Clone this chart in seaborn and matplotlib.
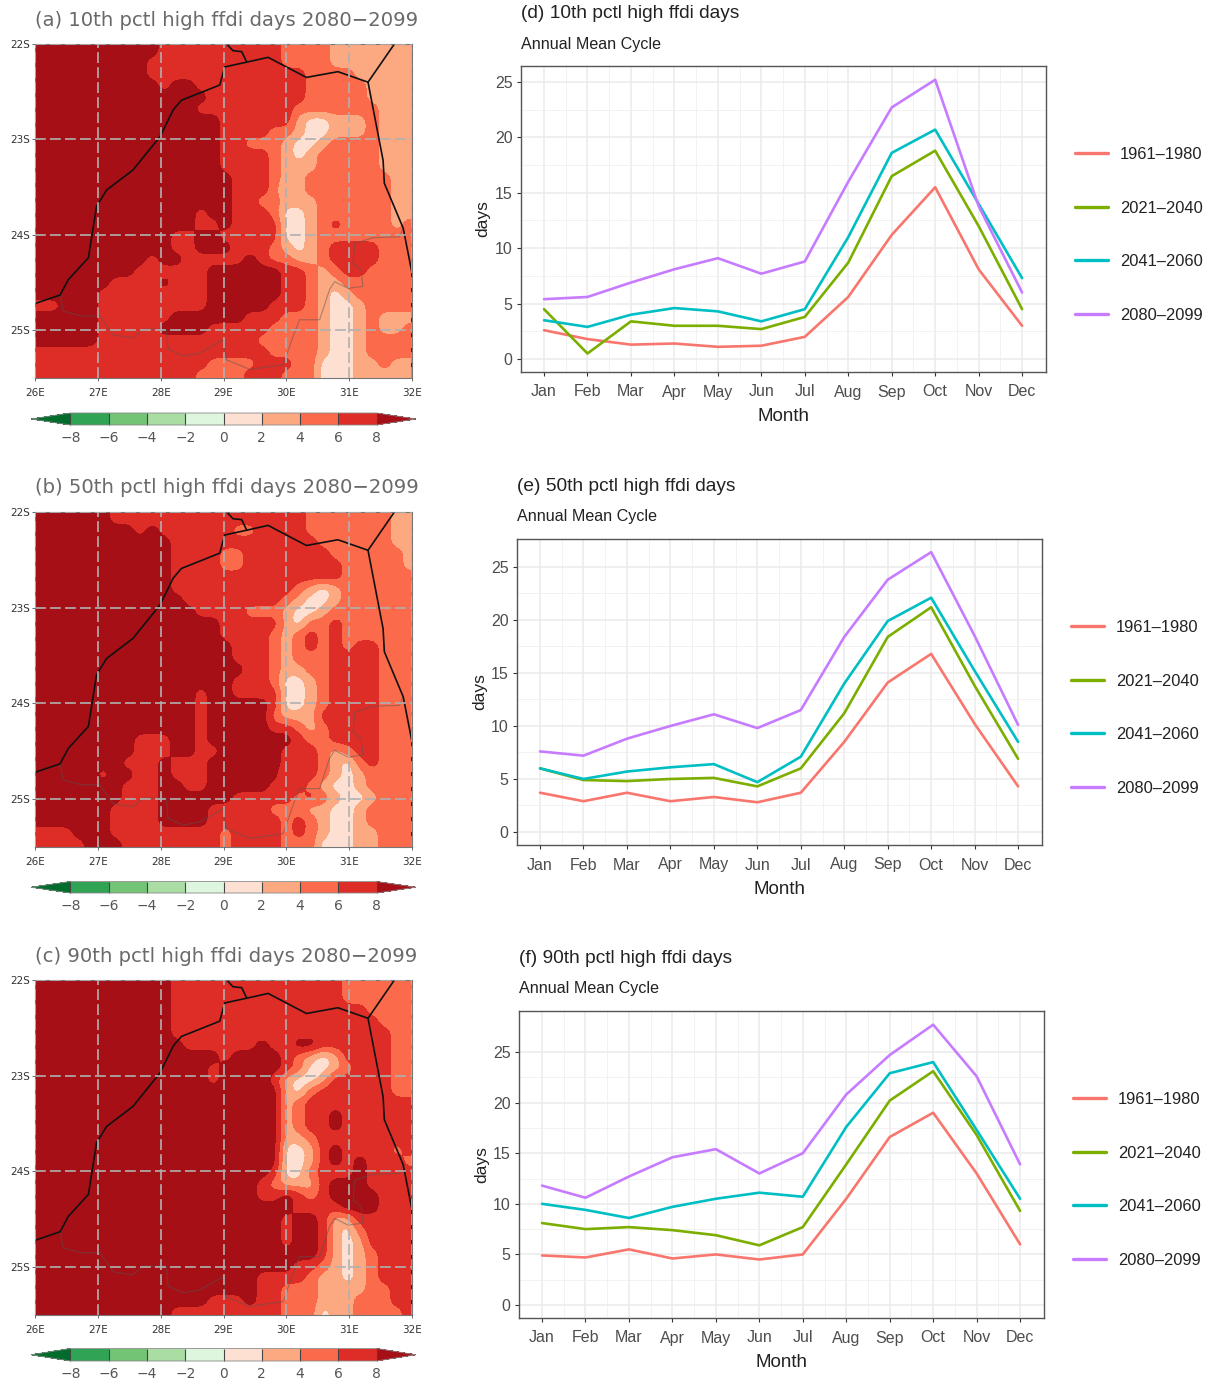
import numpy as np
import pandas as pd
import matplotlib
matplotlib.use("Agg")
import matplotlib.pyplot as plt
from matplotlib.lines import Line2D
import seaborn as sns

W, H = 1213, 1382

months = ["Jan", "Feb", "Mar", "Apr", "May", "Jun", "Jul", "Aug", "Sep", "Oct", "Nov", "Dec"]
periods = ["1961\u20131980", "2021\u20132040", "2041\u20132060", "2080\u20132099"]
line_colors = ["#F8766D", "#7CAE00", "#00BFC4", "#C77CFF"]

# panel d
d_1961 = [2.6, 1.8, 1.3, 1.4, 1.1, 1.2, 2.0, 5.6, 11.2, 15.5, 8.1, 3.0]
d_2021 = [4.5, 0.5, 3.4, 3.0, 3.0, 2.7, 3.8, 8.7, 16.5, 18.8, 12.0, 4.5]
d_2041 = [3.5, 2.9, 4.0, 4.6, 4.3, 3.4, 4.5, 11.0, 18.6, 20.7, 14.0, 7.3]
d_2080 = [5.4, 5.6, 6.9, 8.1, 9.1, 7.7, 8.8, 16.0, 22.7, 25.2, 13.8, 6.0]
# panel e
e_1961 = [3.7, 2.9, 3.7, 2.9, 3.3, 2.8, 3.7, 8.5, 14.1, 16.8, 10.2, 4.3]
e_2021 = [6.0, 4.9, 4.8, 5.0, 5.1, 4.3, 6.0, 11.2, 18.4, 21.2, 13.8, 6.9]
e_2041 = [6.0, 5.0, 5.7, 6.1, 6.4, 4.7, 7.1, 14.0, 19.9, 22.1, 15.2, 8.5]
e_2080 = [7.6, 7.2, 8.8, 10.0, 11.1, 9.8, 11.5, 18.4, 23.8, 26.4, 18.5, 10.1]
# panel f
f_1961 = [4.9, 4.7, 5.5, 4.6, 5.0, 4.5, 5.0, 10.5, 16.6, 19.0, 13.0, 6.0]
f_2021 = [8.1, 7.5, 7.7, 7.4, 6.9, 5.9, 7.7, 13.9, 20.2, 23.1, 16.8, 9.3]
f_2041 = [10.0, 9.4, 8.6, 9.7, 10.5, 11.1, 10.7, 17.6, 22.9, 24.0, 17.3, 10.5]
f_2080 = [11.8, 10.6, 12.7, 14.6, 15.4, 13.0, 15.0, 20.8, 24.7, 27.7, 22.6, 13.9]

# map rows, north to south, as "value:count" runs along the 31 longitudes
map_a = [
    "9:10 7:10 5:4 3:7", "9:9 7:11 5:4 3:7", "9:9 7:13 5:4 3:5", "9:10 7:1 9:2 7:9 5:5 3:4",
    "9:14 7:8 5:5 3:4", "9:13 7:8 5:7 3:3", "9:15 7:6 3:1 1:2 3:3 5:1 3:3", "9:15 7:4 5:2 3:1 1:2 3:3 5:1 3:3",
    "9:15 7:2 5:3 3:1 1:2 3:1 5:4 3:3", "9:15 7:4 5:1 3:1 1:1 3:1 5:5 3:3", "9:15 7:4 5:1 3:3 5:5 3:3",
    "9:16 7:3 5:1 3:2 5:7 3:2", "9:16 7:3 5:1 1:1 3:1 5:7 3:2", "9:16 7:2 5:2 3:3 5:6 3:2",
    "9:13 7:1 9:2 7:3 5:1 1:2 3:1 5:6 3:2", "9:13 7:2 9:1 7:4 1:2 3:1 5:1 7:1 5:4 3:1 5:1",
    "9:11 7:2 9:2 7:5 1:2 3:1 5:8", "9:11 7:2 9:3 7:3 5:1 3:1 1:1 3:1 5:1 7:4 5:3",
    "9:9 7:1 9:2 7:5 9:1 7:1 5:2 3:2 5:1 7:4 5:3", "9:8 7:6 9:6 7:2 5:1 3:1 5:1 7:2 5:4",
    "9:6 7:4 9:1 7:3 9:6 7:2 5:1 3:2 5:6", "9:5 7:9 9:6 7:2 5:1 3:1 1:1 3:1 5:5",
    "7:2 9:3 7:9 9:5 7:3 5:1 3:1 1:2 3:1 5:4", "9:5 7:6 9:6 7:3 5:3 3:1 1:2 3:1 5:1 3:3",
    "9:5 7:5 9:4 7:5 5:4 3:1 1:2 3:1 5:1 3:2 5:1", "9:5 7:13 5:5 3:1 1:2 3:1 5:4",
    "7:19 5:4 3:1 1:2 3:1 5:4", "7:14 5:4 7:3 5:2 1:3 3:2 5:1 3:2", "7:13 5:4 7:3 5:3 1:3 3:5",
]
map_b = [
    "9:6 7:16 5:7 3:2", "9:8 7:1 9:1 7:6 5:2 7:4 5:7 3:2", "9:11 7:12 5:6 3:2",
    "9:11 7:4 5:2 7:7 5:5 5:1 3:1", "9:11 7:4 5:2 7:8 5:5 3:1", "9:11 7:14 5:6",
    "9:11 7:10 5:1 3:1 1:1 3:1 5:6", "9:12 7:8 5:1 3:1 1:2 3:1 5:6", "9:13 7:4 5:3 3:1 1:2 3:1 5:7",
    "9:15 7:5 3:1 1:1 5:2 7:1 5:6", "9:15 7:4 5:1 3:1 5:1 7:1 5:1 7:1 5:6",
    "9:16 7:3 5:1 3:1 5:1 7:1 5:1 7:1 5:1 7:2 5:3", "9:16 7:3 5:1 3:1 5:3 7:4 5:3",
    "9:17 7:2 5:1 3:2 5:2 7:4 5:3", "9:16 7:3 5:1 1:2 3:1 5:1 7:4 5:3",
    "9:13 7:1 9:2 7:4 1:2 3:1 5:1 7:4 5:3", "9:13 7:1 9:5 7:1 1:2 3:1 5:1 7:4 5:3",
    "9:13 7:1 9:5 5:1 3:3 7:5 5:3", "9:13 7:1 9:5 7:2 5:1 3:1 5:1 7:4 5:3",
    "9:8 7:3 9:2 7:1 9:7 7:1 5:2 7:4 5:3", "9:8 7:3 9:2 7:2 9:5 7:2 7:1 5:1 3:1 5:1 7:2 5:3",
    "9:7 7:3 9:1 7:3 9:6 7:3 5:1 3:1 1:1 5:1 7:1 5:3", "9:5 7:1 9:2 7:2 9:1 7:3 9:6 5:1 7:2 5:1 3:1 1:1 3:1 5:4",
    "9:7 7:3 9:2 7:2 9:5 7:3 5:1 3:1 1:2 3:1 5:4", "9:7 7:3 9:6 7:5 5:1 7:1 5:1 3:1 1:2 3:1 5:4",
    "9:6 7:4 9:4 7:5 5:3 3:2 1:2 3:1 5:4", "9:6 7:4 9:4 7:6 5:1 7:1 5:1 3:1 1:2 3:1 5:4",
    "7:3 9:3 7:9 5:1 7:4 5:1 7:1 5:1 3:1 1:2 3:2 5:3", "7:4 9:3 7:8 5:1 7:4 5:3 1:3 3:2 5:3",
]
map_c = [
    "9:11 7:14 5:6", "9:11 7:14 5:6", "9:11 7:16 5:4", "9:11 7:17 5:3", "9:11 7:18 5:2",
    "9:12 7:6 9:1 7:2 9:2 7:6 5:2", "9:15 7:1 9:4 7:1 5:1 3:1 1:1 3:1 7:4 5:2", "9:14 7:1 9:5 7:1 5:1 1:2 3:1 5:1 7:3 5:2",
    "9:14 7:1 9:4 7:1 3:1 1:2 3:1 7:5 5:2", "9:20 3:1 1:1 5:1 7:6 5:2", "9:20 3:1 5:1 7:9",
    "9:20 3:1 5:1 7:2 9:1 7:6", "9:20 3:1 5:1 7:2 9:1 7:6", "9:20 3:1 3:1 5:1 7:8",
    "9:20 1:2 3:1 7:1 9:1 7:4 5:1 7:1", "9:20 1:2 3:1 7:1 9:1 7:1 9:1 7:3 5:1",
    "9:19 7:1 1:2 5:1 7:3 9:1 7:4", "9:18 7:1 5:1 3:2 3:1 7:1 9:3 7:4", "9:18 7:1 7:1 9:1 7:1 5:1 7:1 9:4 7:3",
    "9:21 7:4 9:3 7:3", "9:20 7:1 9:2 7:1 3:2 7:5", "9:20 7:1 9:2 7:1 3:1 1:1 5:1 7:4",
    "9:20 7:1 9:2 7:1 3:1 1:1 3:1 7:4", "9:23 7:1 3:1 1:1 3:1 5:1 7:3", "9:21 7:2 5:1 3:1 1:1 3:1 5:1 7:3",
    "9:18 7:4 5:1 3:2 1:1 3:1 5:1 7:3", "9:18 7:2 5:3 3:3 3:1 5:2 7:2", "9:14 7:3 9:1 7:2 5:3 3:3 5:3 7:2",
    "9:11 7:9 5:3 1:1 3:2 5:4 7:1",
]
map_titles = ["(a) 10th pctl high ffdi days 2080\u22122099",
              "(b) 50th pctl high ffdi days 2080\u22122099",
              "(c) 90th pctl high ffdi days 2080\u22122099"]
line_titles = ["(d) 10th pctl high ffdi days", "(e) 50th pctl high ffdi days", "(f) 90th pctl high ffdi days"]

lon = np.arange(26, 32.01, 0.2)
lat = np.arange(22, 25.51, 0.125)

border_lon = [26.00, 26.40, 26.53, 26.85, 26.98, 27.14, 27.56, 27.99, 28.20, 28.33, 28.94, 29.02, 29.37, 29.71, 30.00, 30.32, 30.82, 31.30, 31.54, 31.56, 31.86, 32.00, 32.00]
border_lat = [24.72, 24.63, 24.47, 24.24, 23.70, 23.53, 23.32, 22.97, 22.69, 22.59, 22.43, 22.24, 22.19, 22.14, 22.24, 22.35, 22.29, 22.40, 23.22, 23.46, 23.93, 24.40, 25.50]
north_lon = [29.05, 29.15, 29.29, 29.37]
north_lat = [22.00, 22.07, 22.08, 22.19]
east_lon = [31.30, 31.72]
east_lat = [22.40, 22.00]
inner_lon = [26.40, 26.45, 26.74, 27.03, 27.25, 27.56, 27.72, 28.09, 28.12, 28.36, 28.62, 28.99, 29.05, 29.42, 29.95, 30.11, 30.21, 30.53, 30.69, 30.77, 30.98, 31.22, 31.19, 31.06, 31.09, 31.38, 31.80, 31.86]
inner_lat = [24.63, 24.80, 24.85, 24.85, 25.05, 25.08, 24.99, 24.99, 25.20, 25.27, 25.24, 25.10, 25.31, 25.41, 25.36, 25.06, 24.89, 24.89, 24.57, 24.49, 24.56, 24.54, 24.37, 24.30, 24.09, 24.03, 24.02, 23.93]

levels = [-8, -6, -4, -2, 0, 2, 4, 6, 8]
under_color = "#006D2C"
over_color = "#A50F15"
band_colors = ["#31A354", "#74C476", "#A9DDA3", "#DDF6DD", "#FEE0D2", "#FCA982", "#FB6A4A", "#DE2D26"]

sns.set_theme(style="whitegrid")
plt.rcParams["font.family"] = ["Liberation Sans", "DejaVu Sans"]


def axes_px(fig, left, top, right, bottom):
    return fig.add_axes([left / W, 1 - bottom / H, (right - left) / W, (bottom - top) / H])


def decode(rows):
    out = []
    for row in rows:
        vals = []
        for run in row.split():
            v, n = run.split(":")
            vals += [int(v)] * int(n)
        out.append((vals + vals[-1:] * 31)[:31])
    return np.array(out, dtype=float)


def soften(z, k=6):
    # round the blocky cells so the filled contours come out smooth
    z = np.repeat(np.repeat(z, k, axis=0), k, axis=1)
    box = np.ones(k) / k
    for axis in (0, 1):
        for _ in range(2):
            pad = [(k, k) if i == axis else (0, 0) for i in range(2)]
            z = np.apply_along_axis(lambda m: np.convolve(m, box, mode="same"), axis, np.pad(z, pad, mode="edge"))
            z = z[k:-k, :] if axis == 0 else z[:, k:-k]
    return z


def draw_map(fig, rows, title, top, bottom, cb_top, cb_bottom):
    ax = axes_px(fig, 35, top, 412, bottom)
    z = soften(decode(rows))
    x = np.linspace(lon[0], lon[-1], z.shape[1])
    y = np.linspace(lat[0], lat[-1], z.shape[0])
    cf = ax.contourf(x, y, z, levels=levels, colors=band_colors, extend="both")
    cf.cmap.set_under(under_color)
    cf.cmap.set_over(over_color)
    cf.changed()
    ax.plot(inner_lon, inner_lat, color="#555555", lw=0.8, alpha=0.5)
    for xs, ys in [(border_lon, border_lat), (north_lon, north_lat), (east_lon, east_lat)]:
        ax.plot(xs, ys, color="#111111", lw=1.2)
    ax.set_xlim(26, 32)
    ax.set_ylim(25.5, 22)
    ax.set_xticks(range(26, 33))
    ax.set_xticklabels([f"{v}E" for v in range(26, 33)], fontsize=7.5, color="#333333", family="DejaVu Sans")
    ax.set_yticks(range(22, 26))
    ax.set_yticklabels([f"{v}S" for v in range(22, 26)], fontsize=7.5, color="#333333", family="DejaVu Sans")
    ax.tick_params(axis="x", length=2, width=0.6, pad=5, color="#555555", bottom=True)
    ax.tick_params(axis="y", length=2, width=0.6, pad=1.5, color="#555555", left=True)
    ax.grid(True, color="#B0B0B0", lw=1.2, linestyle=(0, (6.5, 2.5)))
    ax.set_axisbelow(False)
    for s in ax.spines.values():
        s.set_color("#777777")
        s.set_linewidth(0.8)
    fig.text(35 / W, 1 - (top - 24) / H, title, fontsize=14.1, color="#6A6A6A", family="DejaVu Sans", va="center", ha="left")

    cax = axes_px(fig, 31, cb_top, 416, cb_bottom)
    cb = fig.colorbar(cf, cax=cax, orientation="horizontal", extend="both", extendfrac=0.129, drawedges=True)
    cb.dividers.set_color("#444444")
    cb.dividers.set_linewidth(0.8)
    cb.outline.set_edgecolor("#888888")
    cb.outline.set_linewidth(0.6)
    cb.set_ticks(levels)
    cb.ax.set_xticklabels([str(v).replace("-", "\u2212") for v in levels], fontsize=10, color="#555555", family="DejaVu Sans")
    cb.ax.tick_params(length=0, pad=4)


def draw_lines(fig, series, title, left, right, top, bottom, ylow, yhigh, xlow, xhigh, leg_x):
    ax = axes_px(fig, left, top, right, bottom)
    df = pd.DataFrame({
        "month": list(range(12)) * 4,
        "days": sum(series, []),
        "period": [p for p in periods for _ in months],
    })
    sns.lineplot(data=df, x="month", y="days", hue="period", hue_order=periods, palette=line_colors,
                 lw=1.9, legend=False, ax=ax, errorbar=None, zorder=3)
    ax.set_xlim(xlow, xhigh)
    ax.set_ylim(ylow, yhigh)
    ax.set_xticks(range(12))
    ax.set_xticklabels(months, fontsize=11.5, color="#4D4D4D")
    ax.set_yticks(range(0, 26, 5))
    ax.set_yticklabels(range(0, 26, 5), fontsize=11.5, color="#4D4D4D")
    ax.set_xticks(np.arange(0.5, 11, 1), minor=True)
    ax.set_yticks(np.arange(2.5, 26, 5), minor=True)
    ax.grid(True, which="major", color="#EBEBEB", lw=1.1)
    ax.grid(True, which="minor", color="#F0F0F0", lw=0.6)
    ax.tick_params(axis="x", which="major", length=3, width=0.8, color="#333333", pad=6, bottom=True)
    ax.tick_params(axis="y", which="major", length=3, width=0.8, color="#333333", pad=3, left=True)
    ax.tick_params(which="minor", length=0)
    for s in ax.spines.values():
        s.set_color("#555555")
        s.set_linewidth(1.0)
    ax.set_xlabel("Month", fontsize=13.5, color="#222222", labelpad=6)
    ax.set_ylabel("days", fontsize=12.5, color="#222222", labelpad=3)
    fig.text(left / W, 1 - (top - 52.5) / H, title, fontsize=13.8, color="#222222", va="center", ha="left")
    fig.text(left / W, 1 - (top - 22) / H, "Annual Mean Cycle", fontsize=11.6, color="#222222", va="center", ha="left")
    handles = [Line2D([], [], color=c, lw=2.4) for c in line_colors]
    fig.legend(handles, periods, loc="center left", frameon=False, fontsize=11.9,
               bbox_to_anchor=(leg_x / W, 1 - (top + 169) / H), labelspacing=2.33,
               handlelength=2.0, handletextpad=0.73, labelcolor="#222222", borderpad=0, borderaxespad=0)


fig = plt.figure(figsize=(W / 100, H / 100), dpi=100, facecolor="white")

draw_map(fig, map_a, map_titles[0], 44, 378, 413, 425)
draw_map(fig, map_b, map_titles[1], 512, 847, 881.5, 893)
draw_map(fig, map_c, map_titles[2], 980, 1315, 1348.5, 1361)

draw_lines(fig, [d_1961, d_2021, d_2041, d_2080], line_titles[0], 521, 1046, 66, 372, -1.17, 26.44, -0.53, 11.55, 1075)
draw_lines(fig, [e_1961, e_2021, e_2041, e_2080], line_titles[1], 517, 1042, 539, 845, -1.23, 27.64, -0.53, 11.55, 1071)
draw_lines(fig, [f_1961, f_2021, f_2041, f_2080], line_titles[2], 519, 1044, 1011, 1318, -1.28, 29.05, -0.53, 11.55, 1073)

fig.savefig("out.png", dpi=100)
